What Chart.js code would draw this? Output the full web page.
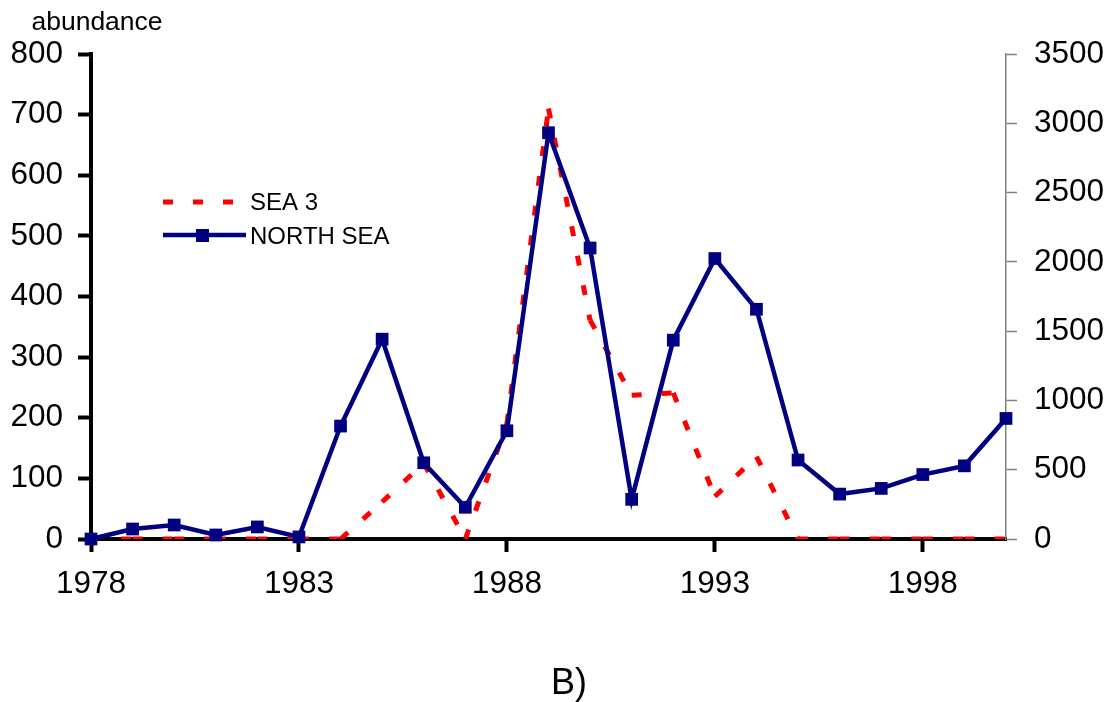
<!doctype html>
<html lang="en">
<head>
<meta charset="utf-8">
<title>abundance B)</title>
<style>
    body { margin: 0; background: #fff; }
    #wrap { width: 1120px; height: 702px; }
</style>
</head>
<body>
<div id="wrap"><canvas id="myChart" width="1120" height="702"></canvas></div>

<script src="https://cdn.jsdelivr.net/npm/chart.js"></script>
<script>
    // values
    const years = [1978, 1979, 1980, 1981, 1982, 1983, 1984, 1985, 1986, 1987, 1988,
                   1989, 1990, 1991, 1992, 1993, 1994, 1995, 1996, 1997, 1998, 1999, 2000];
    // SEA 3 -> left axis
    const sea3 = [0, 0, 0, 0, 0, 0, 0, 61, 125, 0, 190,
                  710, 361, 237, 241, 70, 136, 0, 0, 0, 0, 0, 0];
    // NORTH SEA -> right axis
    const northSea = [0, 72, 101, 29, 87, 15, 815, 1442, 550, 229, 781,
                      2932, 2100, 286, 1435, 2024, 1658, 570, 324, 365, 465, 528, 870];
    const xTicks = [1978, 1983, 1988, 1993, 1998];
    const leftTicks = [0, 100, 200, 300, 400, 500, 600, 700, 800];
    const rightTicks = [0, 500, 1000, 1500, 2000, 2500, 3000, 3500];

    const FONT = "'Liberation Sans', Arial, sans-serif";
    const RED = '#ff0000';
    const NAVY = '#000080';

    const toPoints = (vals) => years.map((y, i) => ({x: y, y: vals[i]}));

    // texts and the legend inside the plot
    const extras = {
        id: 'extras',
        afterDraw(chart) {
            const ctx = chart.ctx;
            ctx.save();
            ctx.fillStyle = '#000';
            ctx.textBaseline = 'alphabetic';
            ctx.textAlign = 'center';
            ctx.font = '26.5px ' + FONT;
            ctx.fillText('abundance', 97, 30);
            ctx.font = '36px ' + FONT;
            ctx.fillText('B)', 569, 694);

            // SEA 3
            ctx.strokeStyle = RED;
            ctx.lineWidth = 5;
            ctx.setLineDash([10, 20]);
            ctx.beginPath();
            ctx.moveTo(163, 202);
            ctx.lineTo(234, 202);
            ctx.stroke();
            ctx.setLineDash([]);

            // NORTH SEA
            ctx.strokeStyle = NAVY;
            ctx.lineWidth = 4.5;
            ctx.beginPath();
            ctx.moveTo(163, 235);
            ctx.lineTo(246, 235);
            ctx.stroke();
            ctx.fillStyle = NAVY;
            ctx.fillRect(196, 229, 13, 13);

            ctx.fillStyle = '#000';
            ctx.textAlign = 'left';
            ctx.textBaseline = 'middle';
            ctx.font = '24px ' + FONT;
            ctx.fillText('SEA 3', 250, 203);
            ctx.fillText('NORTH SEA', 250, 237);
            ctx.restore();
        }
    };

    new Chart(document.getElementById('myChart'), {
        type: 'line',
        data: {
            datasets: [{
                label: 'NORTH SEA',
                data: toPoints(northSea),
                yAxisID: 'y2',
                borderColor: NAVY,
                backgroundColor: NAVY,
                borderWidth: 4.5,
                pointStyle: 'rect',
                pointRadius: 9,
                pointBorderWidth: 0,
                tension: 0,
                clip: false,
                order: 0
            }, {
                label: 'SEA 3',
                data: toPoints(sea3),
                yAxisID: 'y',
                borderColor: RED,
                borderWidth: 5,
                borderDash: [10, 20],
                pointRadius: 0,
                tension: 0,
                // restart the dash pattern on every segment
                segment: {
                    borderDashOffset: ctx => (ctx.p0DataIndex % 2 ? 0.0001 : 0)
                },
                order: 1
            }]
        },
        options: {
            responsive: false,
            animation: false,
            events: [],
            layout: {padding: {top: 54, left: 0, right: 0, bottom: 0}},
            plugins: {legend: {display: false}, tooltip: {enabled: false}},
            scales: {
                x: {
                    type: 'linear',
                    min: 1978,
                    max: 2000,
                    afterBuildTicks: s => { s.ticks = xTicks.map(v => ({value: v})); },
                    afterFit: s => { s.height = 702 - 539; },
                    border: {display: true, color: '#000', width: 4},
                    grid: {display: true, drawOnChartArea: false, tickLength: 13, tickWidth: 4, tickColor: '#000'},
                    ticks: {color: '#000', font: {family: FONT, size: 31.5}, padding: 13, maxRotation: 0,
                            callback: v => String(v)}
                },
                y: {
                    position: 'left',
                    min: 0,
                    max: 800,
                    afterBuildTicks: s => { s.ticks = leftTicks.map(v => ({value: v})); },
                    afterFit: s => { s.width = 91; },
                    border: {display: true, color: '#000', width: 4},
                    grid: {display: true, drawOnChartArea: false, tickLength: 13, tickWidth: 4, tickColor: '#000'},
                    ticks: {color: '#000', font: {family: FONT, size: 31.5}, padding: 15}
                },
                y2: {
                    position: 'right',
                    min: 0,
                    max: 3500,
                    afterBuildTicks: s => { s.ticks = rightTicks.map(v => ({value: v})); },
                    afterFit: s => { s.width = 1120 - 1006; },
                    border: {display: true, color: '#808080', width: 1.5},
                    grid: {display: true, drawOnChartArea: false, tickLength: 11, tickWidth: 1.5, tickColor: '#808080'},
                    ticks: {color: '#000', font: {family: FONT, size: 31.5}, padding: 17,
                            callback: v => String(v)}
                }
            }
        },
        plugins: [extras]
    });
</script>
</body>
</html>
